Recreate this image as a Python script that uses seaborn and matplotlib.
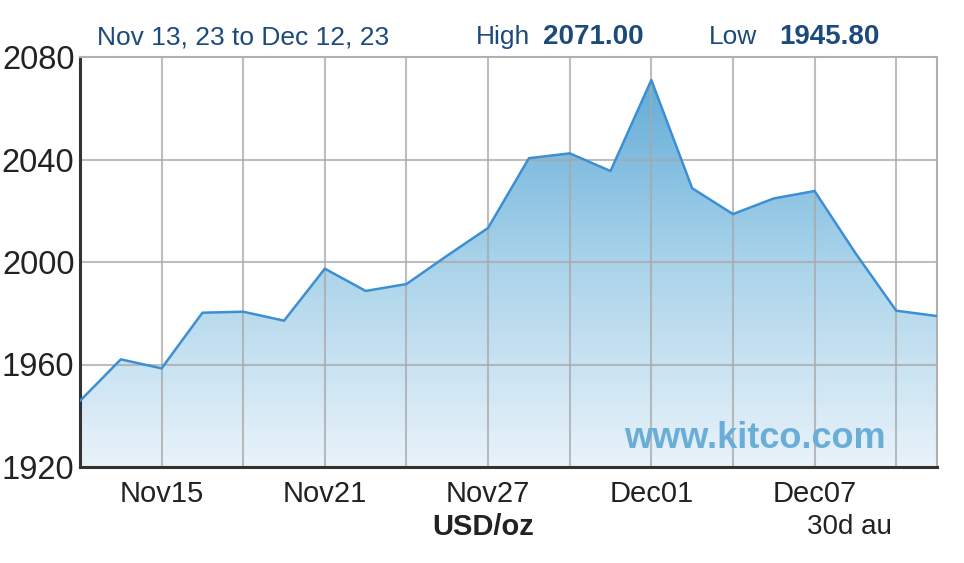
import numpy as np
import pandas as pd
import matplotlib
matplotlib.use("Agg")
import matplotlib.pyplot as plt
import seaborn as sns
from matplotlib.colors import LinearSegmentedColormap

# Gold price, Nov 13 2023 to Dec 12 2023 (trading days)
dates = ["Nov13", "Nov14", "Nov15", "Nov16", "Nov17", "Nov20", "Nov21", "Nov22",
         "Nov23", "Nov24", "Nov27", "Nov28", "Nov29", "Nov30", "Dec01", "Dec04",
         "Dec05", "Dec06", "Dec07", "Dec08", "Dec11", "Dec12"]
prices = [1945.8, 1962.0, 1958.5, 1980.2, 1980.6, 1977.1, 1997.4, 1988.7,
          1991.4, 2002.5, 2013.3, 2040.5, 2042.4, 2035.5, 2071.0, 2028.8,
          2018.7, 2024.8, 2027.7, 2003.5, 1981.0, 1978.9]
tick_labels = ["Nov15", "Nov21", "Nov27", "Dec01", "Dec07"]
y_ticks = [1920, 1960, 2000, 2040, 2080]

df = pd.DataFrame({"day": np.arange(len(prices)), "price": prices, "date": dates})

sns.set_style("white")
plt.rcParams['font.family'] = ['Liberation Sans', 'DejaVu Sans']

fig = plt.figure(figsize=(9.64, 5.63), dpi=100)
ax = fig.add_axes([80/964, 1 - 467/563, (937 - 80)/964, (467 - 57)/563])

xmin, xmax = 0, len(prices) - 1
ymin, ymax = 1920, 2080
ax.set_xlim(xmin, xmax)
ax.set_ylim(ymin, ymax)

# gradient fill under the line
cmap = LinearSegmentedColormap.from_list("kitco", ["#e9f3fa", "#a9d3ea", "#5aa8d6"])
grad = np.linspace(0, 1, 256).reshape(-1, 1)
img = ax.imshow(grad, cmap=cmap, aspect="auto", origin="lower",
                extent=[xmin, xmax, ymin, ymax], zorder=1)
poly = ax.fill_between(df["day"], df["price"], ymin, color="none", zorder=1)
img.set_clip_path(poly.get_paths()[0], transform=ax.transData)

# grid: a vertical line every second trading day
for d in df["day"][2::2]:
    ax.axvline(d, color="#a8a8a8", lw=1.5, alpha=0.75, zorder=2)
for v in y_ticks[1:-1]:
    ax.axhline(v, color="#a8a8a8", lw=1.5, alpha=0.75, zorder=2)

sns.lineplot(data=df, x="day", y="price", ax=ax, color="#3d8fd4", lw=1.8, zorder=3)

ax.set_yticks(y_ticks)
ax.set_xticks([2, 6, 10, 14, 18])
ax.set_xticklabels(tick_labels, fontsize=21, color="#222222")
ax.set_yticklabels([str(v) for v in y_ticks], fontsize=23.5, color="#222222")
ax.tick_params(axis="both", which="both", length=0, pad=4)
ax.tick_params(axis="x", pad=9)
ax.set_xlabel("")
ax.set_ylabel("")

for side in ["left", "bottom"]:
    ax.spines[side].set_color("#333333")
    ax.spines[side].set_linewidth(2.2)
for side in ["top", "right"]:
    ax.spines[side].set_color("#b0b0b0")
    ax.spines[side].set_linewidth(1.5)

navy = "#1c4a7a"
ty = 1 - 37/563
fig.text(97/964, ty, "Nov 13, 23 to Dec 12, 23", fontsize=19, color=navy, va="center")
fig.text(476/964, ty, "High", fontsize=19, color=navy, va="center")
fig.text(543/964, ty, "2071.00", fontsize=20, color=navy, va="center", weight="bold")
fig.text(709/964, ty, "Low", fontsize=19, color=navy, va="center")
fig.text(779/964, ty, "1945.80", fontsize=20, color=navy, va="center", weight="bold")

ax.text(0.94, 0.07, "www.kitco.com", transform=ax.transAxes, ha="right",
        va="center", fontsize=26, weight="bold", color="#6aaed8", zorder=4)

fig.text(483/964, 1 - 527/563, "USD/oz", fontsize=21, weight="bold", color="#222222",
         ha="center", va="center")
fig.text(849/964, 1 - 527/563, "30d au", fontsize=20, color="#222222",
         ha="center", va="center")

fig.savefig("out.png", dpi=100)
